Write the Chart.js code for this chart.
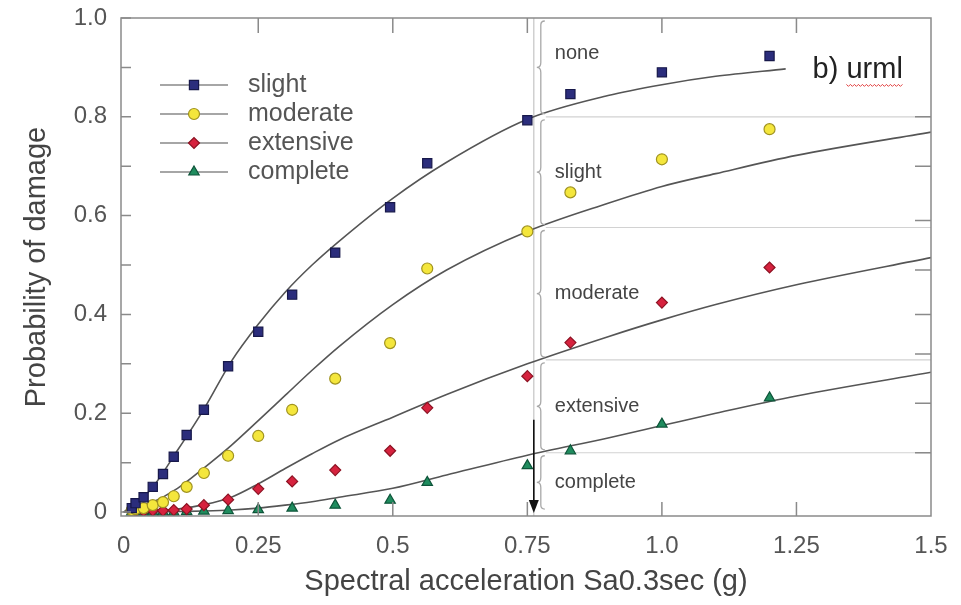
<!DOCTYPE html>
<html>
<head>
<meta charset="utf-8">
<script src="https://cdn.jsdelivr.net/npm/chart.js@4.4.1/dist/chart.umd.min.js"></script>
<style>
html, body { margin: 0; padding: 0; background: #fff; }
</style>
</head>
<body>
<canvas id="fragChart" width="961" height="605"></canvas>
<script>
// observed damage probabilities (markers)
const sa = [0.015, 0.022, 0.037, 0.054, 0.073, 0.093, 0.117, 0.149, 0.194, 0.25, 0.313, 0.393, 0.495, 0.564, 0.75, 0.83, 1.0, 1.2];
const slight = [0.008, 0.018, 0.030, 0.051, 0.077, 0.112, 0.156, 0.207, 0.295, 0.365, 0.44, 0.525, 0.617, 0.706, 0.793, 0.846, 0.89, 0.923];
const moderate = [0.004, 0.006, 0.008, 0.014, 0.02, 0.032, 0.051, 0.079, 0.114, 0.154, 0.207, 0.27, 0.342, 0.493, 0.568, 0.647, 0.714, 0.775];
const extensive = [0.001, 0.002, 0.002, 0.003, 0.003, 0.004, 0.006, 0.014, 0.025, 0.047, 0.062, 0.085, 0.124, 0.211, 0.275, 0.343, 0.424, 0.495];
const complete = [0, 0, 0, 0, 0, 0, 0.001, 0.002, 0.003, 0.005, 0.008, 0.014, 0.024, 0.06, 0.094, 0.124, 0.178, 0.231];

// fitted fragility curves
const fitSa = [0, 0.05, 0.1, 0.15, 0.2, 0.25, 0.3, 0.35, 0.4, 0.5, 0.6, 0.75, 0.9, 1.0, 1.1, 1.25, 1.5];
const slightFitSa = [0, 0.05, 0.1, 0.15, 0.2, 0.25, 0.3, 0.35, 0.4, 0.5, 0.6, 0.75, 0.9, 1.0, 1.1, 1.23];
const slightFit = [0, 0.045, 0.125, 0.21, 0.305, 0.38, 0.445, 0.50, 0.548, 0.635, 0.708, 0.795, 0.843, 0.865, 0.882, 0.897];
const moderateFit = [0, 0.018, 0.048, 0.09, 0.135, 0.185, 0.236, 0.287, 0.335, 0.42, 0.49, 0.568, 0.625, 0.659, 0.685, 0.722, 0.769];
const extensiveFit = [0, 0.002, 0.006, 0.015, 0.03, 0.057, 0.088, 0.118, 0.146, 0.192, 0.238, 0.30, 0.355, 0.389, 0.42, 0.46, 0.515];
const completeFit = [0, 0, 0.001, 0.002, 0.004, 0.008, 0.014, 0.021, 0.03, 0.048, 0.075, 0.115, 0.15, 0.175, 0.2, 0.235, 0.283];

const xTicks = [0, 0.25, 0.5, 0.75, 1.0, 1.25, 1.5];
const xTickLabels = ['0', '0.25', '0.5', '0.75', '1.0', '1.25', '1.5'];
const yTicks = [0, 0.2, 0.4, 0.6, 0.8, 1.0];
const yTickLabels = ['0', '0.2', '0.4', '0.6', '0.8', '1.0'];
const yMinorTicks = [0.1, 0.3, 0.5, 0.7, 0.9];
const rightTicks = [0.12, 0.22, 0.32, 0.4, 0.49, 0.59, 0.7, 0.8];

// damage state bands at the marked spectral acceleration
const markSa = 0.762;
const stateLevels = [1.0, 0.80, 0.576, 0.308, 0.12, 0];
const stateLabels = ['none', 'slight', 'moderate', 'extensive', 'complete'];
const arrowTop = 0.187;

const FONT = "'Liberation Sans', Arial, Helvetica, sans-serif";

function pts(xs, ys) {
    return xs.map((x, i) => ({ x: x, y: ys[i] }));
}

const markers = [
    { label: 'slight', data: slight, style: 'rect', radius: 6.5, bg: '#2b2d7c', border: '#17184a' },
    { label: 'moderate', data: moderate, style: 'circle', radius: 5.5, bg: '#f4e63c', border: '#a09320' },
    { label: 'extensive', data: extensive, style: 'rectRot', radius: 5.5, bg: '#d6223e', border: '#8c1222' },
    { label: 'complete', data: complete, style: 'triangle', radius: 6, bg: '#1f8c5e', border: '#0e553a' }
];

const fits = [
    pts(slightFitSa, slightFit),
    pts(fitSa, moderateFit),
    pts(fitSa, extensiveFit),
    pts(fitSa, completeFit)
];

const datasets = [];
markers.forEach(m => {
    datasets.push({
        label: m.label,
        data: pts(sa, m.data),
        showLine: false,
        pointStyle: m.style,
        pointRadius: m.radius,
        pointBackgroundColor: m.bg,
        pointBorderColor: m.border,
        pointBorderWidth: 1.2,
        order: 1
    });
});
fits.forEach((f, i) => {
    datasets.push({
        label: markers[i].label + ' fit',
        data: f,
        showLine: true,
        borderColor: '#555',
        borderWidth: 1.6,
        pointRadius: 0,
        cubicInterpolationMode: 'monotone',
        order: 2
    });
});

function brace(ctx, x, y1, y2) {
    const d = 4, mid = (y1 + y2) / 2, r = 5;
    ctx.beginPath();
    ctx.moveTo(x + d * 2, y1 + 1);
    ctx.quadraticCurveTo(x + d, y1 + 1, x + d, y1 + r);
    ctx.lineTo(x + d, mid - r);
    ctx.quadraticCurveTo(x + d, mid, x, mid);
    ctx.quadraticCurveTo(x + d, mid, x + d, mid + r);
    ctx.lineTo(x + d, y2 - r);
    ctx.quadraticCurveTo(x + d, y2 - 1, x + d * 2, y2 - 1);
    ctx.stroke();
}

function marker(ctx, m, x, y) {
    const opts = { pointStyle: m.style, radius: m.radius, borderWidth: 1.2, rotation: 0 };
    ctx.fillStyle = m.bg;
    ctx.strokeStyle = m.border;
    ctx.lineWidth = 1.2;
    Chart.helpers.drawPoint(ctx, opts, x, y);
}

const backdrop = {
    id: 'backdrop',
    beforeDatasetsDraw(chart) {
        const { ctx, chartArea, scales: { x, y } } = chart;
        const xm = x.getPixelForValue(markSa);
        ctx.save();
        ctx.strokeStyle = '#c4c4c4';
        ctx.lineWidth = 1.2;
        ctx.beginPath();
        ctx.moveTo(xm, chartArea.top);
        ctx.lineTo(xm, chartArea.bottom);
        ctx.stroke();
        ctx.strokeStyle = '#d2d2d2';
        stateLevels.slice(1, -1).forEach(v => {
            const py = y.getPixelForValue(v);
            ctx.beginPath();
            ctx.moveTo(xm + 12, py);
            ctx.lineTo(chartArea.right, py);
            ctx.stroke();
        });
        ctx.restore();
    }
};

const overlay = {
    id: 'overlay',
    afterDatasetsDraw(chart) {
        const { ctx, chartArea, scales: { x, y } } = chart;
        const xm = x.getPixelForValue(markSa);
        ctx.save();

        // braces and damage-state labels
        ctx.strokeStyle = '#a8a8a8';
        ctx.lineWidth = 1.3;
        ctx.fillStyle = '#444';
        ctx.font = '20px ' + FONT;
        ctx.textBaseline = 'middle';
        for (let i = 0; i < stateLabels.length; i++) {
            const y1 = y.getPixelForValue(stateLevels[i]);
            const y2 = y.getPixelForValue(stateLevels[i + 1]);
            brace(ctx, xm + 3, y1 + 2, y2 - 2);
            ctx.fillText(stateLabels[i], xm + 21, (y1 + y2) / 2 - (i === 0 ? 14 : 0));
        }

        // arrow
        const ya = y.getPixelForValue(arrowTop);
        const yb = y.getPixelForValue(0);
        ctx.strokeStyle = '#111';
        ctx.fillStyle = '#111';
        ctx.lineWidth = 1.6;
        ctx.beginPath();
        ctx.moveTo(xm, ya);
        ctx.lineTo(xm, yb - 8);
        ctx.stroke();
        ctx.beginPath();
        ctx.moveTo(xm - 5, yb - 12);
        ctx.lineTo(xm + 5, yb - 12);
        ctx.lineTo(xm, yb + 1);
        ctx.closePath();
        ctx.fill();

        // panel tag
        ctx.font = '29px ' + FONT;
        ctx.fillStyle = '#222';
        ctx.textBaseline = 'middle';
        const tx = x.getPixelForValue(1.28), ty = y.getPixelForValue(0.895);
        ctx.fillText('b) urml', tx, ty);
        const w0 = ctx.measureText('b) ').width, w1 = ctx.measureText('b) urml').width;
        ctx.strokeStyle = '#e04040';
        ctx.lineWidth = 1;
        ctx.beginPath();
        for (let px = tx + w0, k = 0; px <= tx + w1; px += 2, k++) {
            const py = ty + 15 + (k % 2 ? 1.5 : -0.5);
            if (k === 0) ctx.moveTo(px, py); else ctx.lineTo(px, py);
        }
        ctx.stroke();

        // legend
        ctx.font = '25px ' + FONT;
        ctx.textBaseline = 'middle';
        markers.forEach((m, i) => {
            const ly = chartArea.top + 67 + i * 29;
            const lx = chartArea.left + 39;
            ctx.strokeStyle = '#888';
            ctx.lineWidth = 1.6;
            ctx.beginPath();
            ctx.moveTo(lx, ly);
            ctx.lineTo(lx + 68, ly);
            ctx.stroke();
            marker(ctx, m, lx + 34, ly);
            ctx.fillStyle = '#555';
            ctx.fillText(m.label, lx + 88, ly);
        });

        // frame and inward ticks
        ctx.strokeStyle = '#8a8a8a';
        ctx.lineWidth = 1.5;
        ctx.strokeRect(chartArea.left, chartArea.top, chartArea.right - chartArea.left, chartArea.bottom - chartArea.top);
        ctx.beginPath();
        yTicks.concat(yMinorTicks).forEach(v => {
            const py = y.getPixelForValue(v);
            ctx.moveTo(chartArea.left, py);
            ctx.lineTo(chartArea.left + 10, py);
        });
        rightTicks.forEach(v => {
            const py = y.getPixelForValue(v);
            ctx.moveTo(chartArea.right, py);
            ctx.lineTo(chartArea.right - 16, py);
        });
        xTicks.slice(1, -1).forEach(v => {
            const px = x.getPixelForValue(v);
            ctx.moveTo(px, chartArea.bottom);
            ctx.lineTo(px, chartArea.bottom - 14);
            ctx.moveTo(px, chartArea.top);
            ctx.lineTo(px, chartArea.top + 15);
        });
        ctx.stroke();
        ctx.restore();
    }
};

const ctx = document.getElementById('fragChart').getContext('2d');
new Chart(ctx, {
    type: 'scatter',
    data: { datasets: datasets },
    options: {
        responsive: false,
        animation: false,
        devicePixelRatio: 1,
        layout: { padding: { left: 0, top: 18, right: 30, bottom: 0 } },
        plugins: { legend: { display: false }, tooltip: { enabled: false } },
        scales: {
            x: {
                type: 'linear',
                min: -0.005,
                max: 1.5,
                grid: { display: false },
                border: { display: false },
                afterFit(scale) {
                    scale.height = 89;
                    scale.paddingLeft = 0;
                    scale.paddingRight = 0;
                },
                afterBuildTicks(scale) { scale.ticks = xTicks.map(v => ({ value: v })); },
                ticks: {
                    padding: 8,
                    color: '#555',
                    font: { family: FONT, size: 24 },
                    maxRotation: 0,
                    callback: (v) => xTickLabels[xTicks.indexOf(v)]
                },
                title: {
                    display: true,
                    text: 'Spectral acceleration Sa0.3sec (g)',
                    color: '#444',
                    font: { family: FONT, size: 29 },
                    padding: { top: 0, bottom: 6 }
                }
            },
            y: {
                type: 'linear',
                min: -0.008,
                max: 1.0,
                grid: { display: false },
                border: { display: false },
                afterFit(scale) {
                    scale.width = 121;
                    scale.paddingTop = 0;
                    scale.paddingBottom = 0;
                },
                afterBuildTicks(scale) { scale.ticks = yTicks.map(v => ({ value: v })); },
                ticks: {
                    padding: 6,
                    color: '#555',
                    font: { family: FONT, size: 24 },
                    callback: (v) => yTickLabels[yTicks.indexOf(v)]
                },
                title: {
                    display: true,
                    text: 'Probability of damage',
                    color: '#444',
                    font: { family: FONT, size: 29 },
                    padding: { top: 20, bottom: 0 }
                }
            }
        }
    },
    plugins: [backdrop, overlay]
});
</script>
</body>
</html>
